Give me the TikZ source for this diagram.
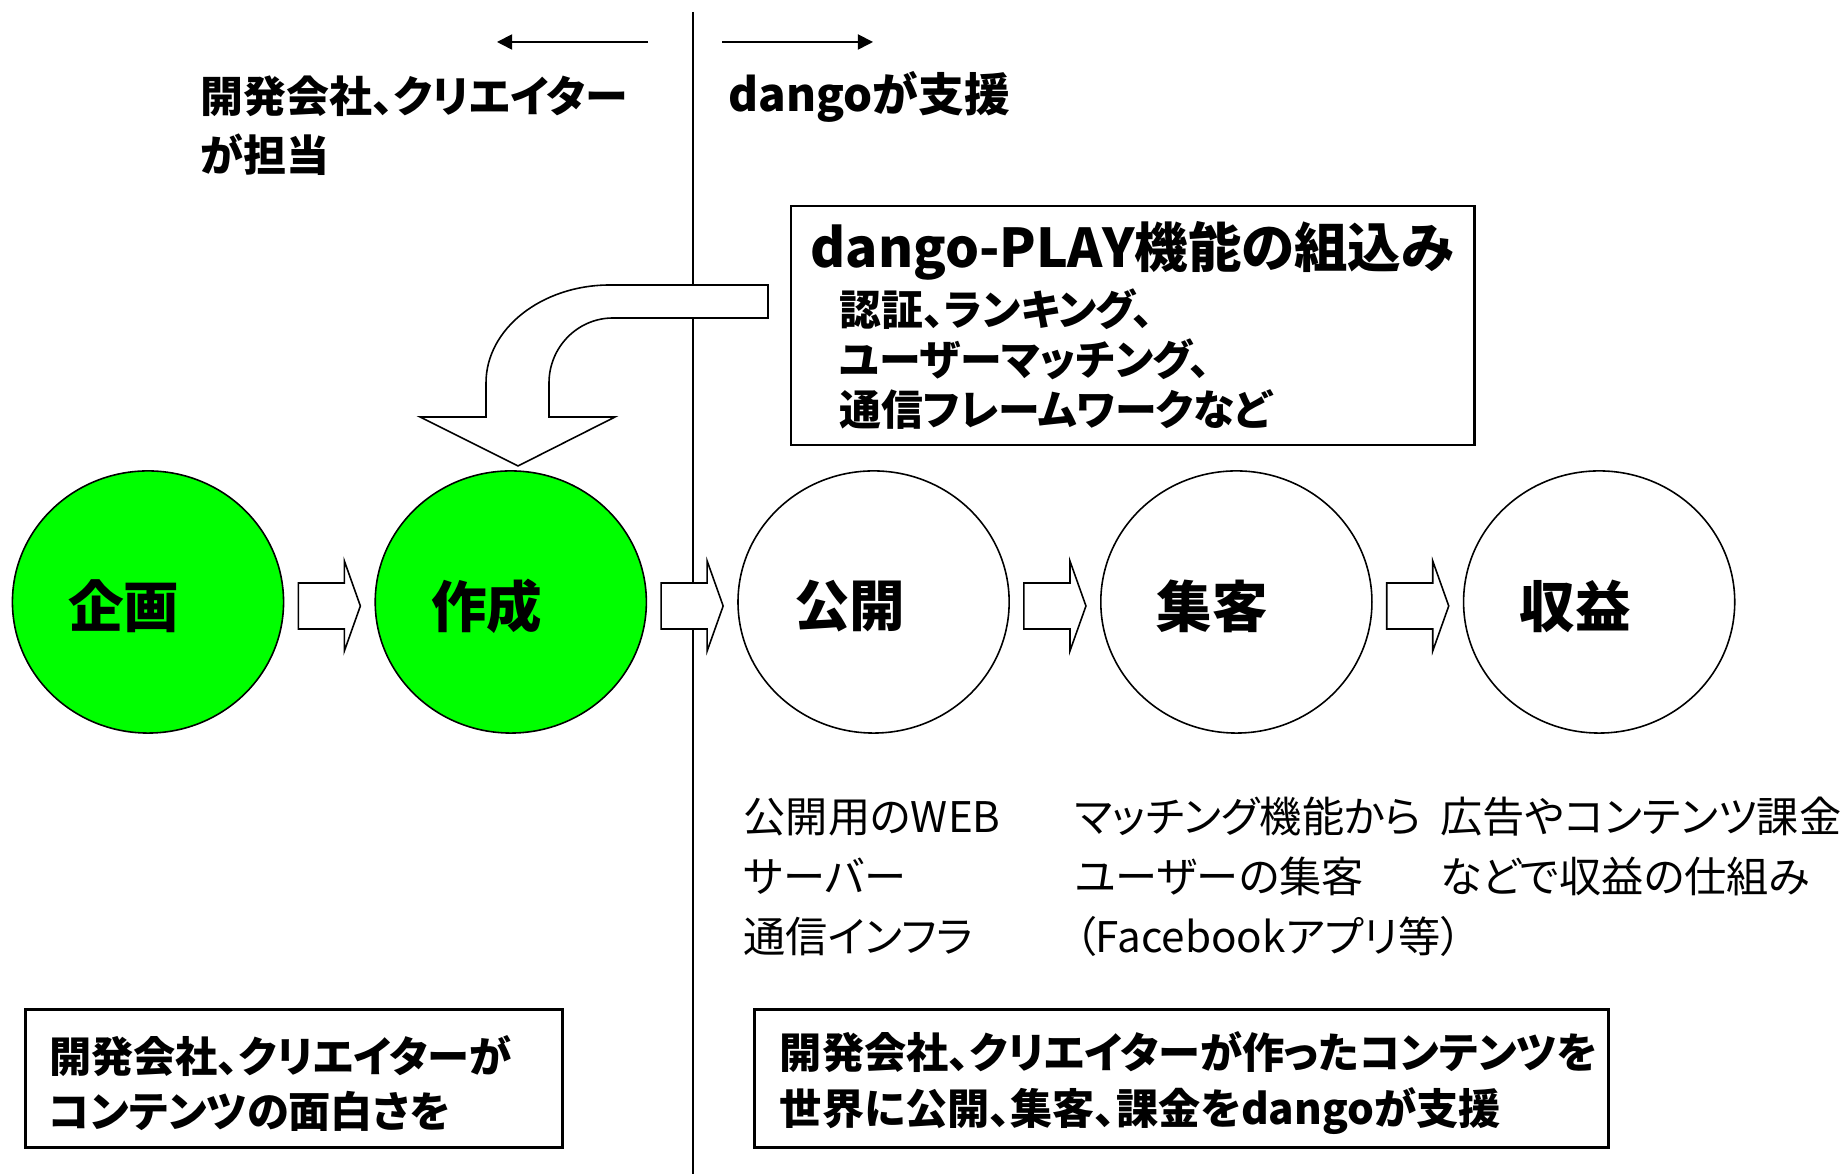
\documentclass[tikz,border=0pt]{standalone}
\usepackage{fontspec}
\setmainfont{Noto Sans CJK JP}[RawFeature=+palt]
\usepackage{xcolor}
\definecolor{donegreen}{HTML}{00FF00}
\usepackage{tikz}
\usetikzlibrary{positioning,calc,shapes.geometric,arrows.meta}

\begin{document}
\begin{tikzpicture}[
        x=0.01cm, y=-0.01cm,
        node distance=0.9cm,
        stage/.style={draw, ellipse, line width=0.45pt, fill=white, minimum width=2.71cm, minimum height=2.62cm, inner sep=0pt},
        stagetext/.style={font=\bfseries\fontsize{15.8}{18}\selectfont, inner sep=0pt, xshift=-0.24cm, yshift=-0.04cm},
        side/.style={anchor=west, align=left, inner sep=0pt, font=\bfseries\fontsize{12.2}{16.8}\selectfont},
        desc/.style={anchor=west, align=left, inner sep=0pt, font=\fontsize{12}{17.1}\selectfont},
        panel/.style={draw, line width=0.6pt, fill=white, inner sep=0pt},
        note/.style={draw, line width=0.85pt, minimum height=1.37cm, inner sep=0pt},
        notetext/.style={anchor=west, align=left, inner sep=0pt, font=\bfseries\fontsize{12}{15.9}\selectfont},
        flow/.style={draw, line width=0.45pt, fill=white},
        dir/.style={-{Triangle[length=4.3pt, width=4.3pt]}, line width=0.5pt},
    ]

    \path[use as bounding box, fill=white] (0,0) rectangle (1841,1174);

    % === Divider ===
    \coordinate (divtop) at (693,12);
    \coordinate (divbot) at (693,1174);
    \draw[line width=0.45pt] (divtop) -- (divbot);

    % === Stages ===
    \node[stage, fill=donegreen] (plan) at (148,602) {};
    \node[stage, fill=donegreen, right=of plan] (make) {};
    \node[stage, right=of make] (publish) {};
    \node[stage, right=of publish] (attract) {};
    \node[stage, right=of attract] (earn) {};

    \foreach \n/\t in {plan/企画, make/作成, publish/公開, attract/集客, earn/収益}
        \node[stagetext] at (\n) {\t};

    \foreach \n in {plan, make, publish, attract}
        \draw[flow] ($(\n.east)+(14,-19)$) -- ++(46,0) -- ++(0,-22) -- ++(16,45)
            -- ++(-16,45) -- ++(0,-22) -- ++(-46,0) -- cycle;

    % === Built-in functions ===
    \node[panel, anchor=north west, minimum width=6.83cm, minimum height=2.39cm] (play) at (790,205) {};
    \node[anchor=west, inner sep=0pt, font=\bfseries\fontsize{15.2}{18}\selectfont] (playtitle)
        at ($(play.north west)+(20,46)$) {dango-PLAY機能の組込み};
    \node[side, font=\bfseries\fontsize{11.9}{14.2}\selectfont] (playlist)
        at ($(play.north west)+(49,154)$) {認証、ランキング、\\ユーザーマッチング、\\通信フレームワークなど};

    \draw[flow] (768,285) -- (610,285) arc[start angle=-90, end angle=-180, x radius=124, y radius=98]
        -- (486,417) -- (420,417) -- (518,466) -- (615,417) -- (549,417) -- (549,383)
        arc[start angle=180, end angle=270, x radius=64, y radius=65] -- (768,318) -- cycle;

    % === Who does what ===
    \coordinate (leftfrom) at (648,42);
    \coordinate (leftto) at (497,42);
    \coordinate (rightfrom) at (722,42);
    \coordinate (rightto) at (873,42);
    \draw[dir] (leftfrom) -- (leftto);
    \draw[dir] (rightfrom) -- (rightto);

    \node[side] (makerside) at (200,126) {開発会社、クリエイター\\が担当};
    \node[side, font=\bfseries\fontsize{13}{16.8}\selectfont] (dangoside) at (728,97) {dangoが支援};

    % === Descriptions ===
    \node[desc] (publishdesc) at (743,877) {公開用のWEB\\サーバー\\通信インフラ};
    \node[desc] (attractdesc) at (1074,877) {マッチング機能から\\ユーザーの集客\\（Facebookアプリ等）};
    \node[desc] (earndesc) at (1440,846.5) {広告やコンテンツ課金\\などで収益の仕組み};

    % === Notes ===
    \node[note, minimum width=5.36cm] (makernote) at (294,1078.5) {};
    \node[notetext] (makertext) at ($(makernote.west)+(24,5)$) {開発会社、クリエイターが\\コンテンツの面白さを};
    \node[note, minimum width=8.53cm] (dangonote) at (1181.5,1078.5) {};
    \node[notetext] (dangotext) at ($(dangonote.west)+(26,5)$) {開発会社、クリエイターが作ったコンテンツを\\世界に公開、集客、課金をdangoが支援};

\end{tikzpicture}
\end{document}
